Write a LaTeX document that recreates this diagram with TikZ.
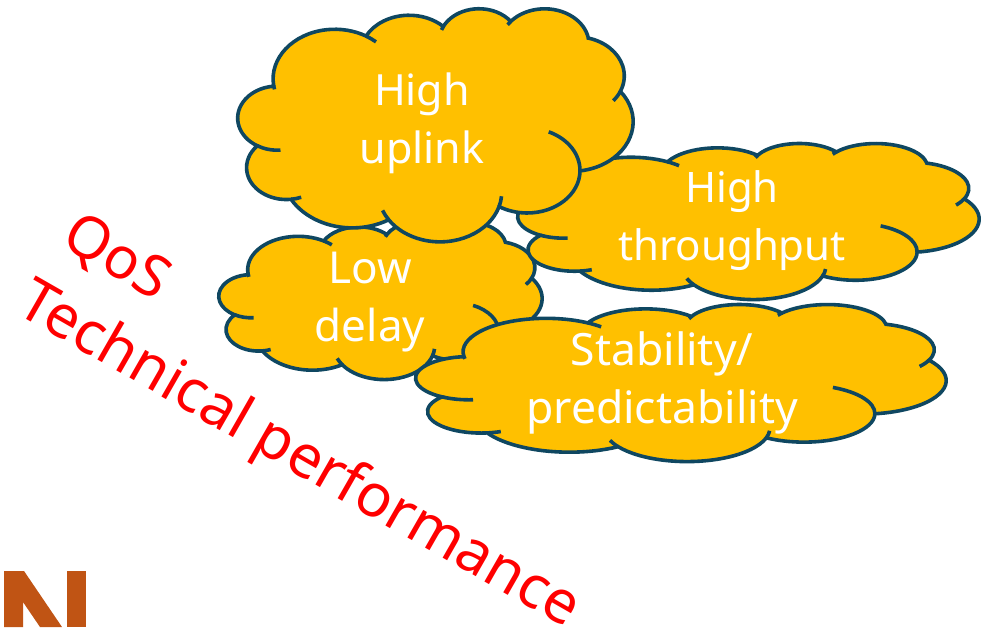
\documentclass[tikz,border=0pt]{standalone}
\usepackage{fontspec}
\setmainfont{Noto Sans}
\definecolor{cloudfill}{HTML}{FFC000}
\definecolor{cloudline}{HTML}{0F4761}
\definecolor{logoorange}{HTML}{C05414}
\newtoks\clhooktoks
\newcommand\clparang[4]{%
  \pgfmathsetmacro#1{atan2(#3*sin(#2),#4*cos(#2))}%
  \pgfmathsetmacro#1{#1+360*round((#2-#1)/360)}}
% wR hR stAng swAng backExt fwdExt
\newcommand\clseg[6]{%
  \pgfmathsetmacro\clra{#1*\clsx}\pgfmathsetmacro\clrb{#2*\clsy}%
  \pgfmathsetmacro\claend{#3+#4}%
  \clparang\cltone{#3}{#1}{#2}\clparang\clttwo{\claend}{#1}{#2}%
  \pgfmathsetmacro\clcx{\clcurx-\clra*cos(\cltone)}%
  \pgfmathsetmacro\clcy{\clcury+\clrb*sin(\cltone)}%
  \pgfmathsetmacro\clmone{0-\cltone}\pgfmathsetmacro\clmtwo{0-\clttwo}%
  \pgfpatharcaxes{\clmone}{\clmtwo}{\pgfpoint{\clra pt}{0pt}}{\pgfpoint{0pt}{\clrb pt}}%
  \pgfmathsetmacro\clcurx{\clcx+\clra*cos(\clttwo)}%
  \pgfmathsetmacro\clcury{\clcy-\clrb*sin(\clttwo)}%
  \ifdim #5pt>0pt
    \pgfmathsetmacro\claback{#3-#5}\clparang\cltb{\claback}{#1}{#2}%
    \pgfmathsetmacro\clhx{\clcx+\clra*cos(\cltb)}\pgfmathsetmacro\clhy{\clcy-\clrb*sin(\cltb)}%
    \pgfmathsetmacro\clmb{0-\cltb}%
    \edef\cltemp{\the\clhooktoks\noexpand\pgfpathmoveto{\noexpand\pgfpoint{\clhx pt}{\clhy pt}}\noexpand\pgfpatharcaxes{\clmb}{\clmone}{\noexpand\pgfpoint{\clra pt}{0pt}}{\noexpand\pgfpoint{0pt}{\clrb pt}}}%
    \global\clhooktoks\expandafter{\cltemp}%
  \fi
  \ifdim #6pt>0pt
    \pgfmathsetmacro\clafwd{\claend+#6}\clparang\cltf{\clafwd}{#1}{#2}%
    \pgfmathsetmacro\clmf{0-\cltf}%
    \edef\cltemp{\the\clhooktoks\noexpand\pgfpathmoveto{\noexpand\pgfpoint{\clcurx pt}{\clcury pt}}\noexpand\pgfpatharcaxes{\clmtwo}{\clmf}{\noexpand\pgfpoint{\clra pt}{0pt}}{\noexpand\pgfpoint{0pt}{\clrb pt}}}%
    \global\clhooktoks\expandafter{\cltemp}%
  \fi}
% X Y W H in px (y downwards)
\newcommand\cloudshape[4]{%
  \begin{pgfscope}%
  \pgfsetlinewidth{3.6pt}\pgfsetstrokecolor{cloudline}\pgfsetfillcolor{cloudfill}%
  \pgfmathsetmacro\clsx{#3/43.2}\pgfmathsetmacro\clsy{#4/43.2}%
  \pgfmathsetmacro\clcurx{#1+3.9*\clsx}\pgfmathsetmacro\clcury{0-(#2+14.37*\clsy)}%
  \global\clhooktoks{}%
  \pgfpathmoveto{\pgfpoint{\clcurx pt}{\clcury pt}}%
  \clseg{6.753}{9.190}{-190.4875}{123.7805}{6}{10}%
  \clseg{5.333}{7.267}{-144.1024}{89.9452}{0}{0}%
  \clseg{4.365}{5.945}{-145.8079}{99.7230}{8}{0}%
  \clseg{4.857}{6.595}{-130.9861}{117.2417}{7}{3}%
  \clseg{5.333}{7.273}{-78.7089}{109.0269}{0}{17.71}%
  \clseg{6.775}{9.220}{-46.2673}{130.2690}{0}{0}%
  \clseg{5.785}{7.867}{0.6250}{114.0333}{72.39}{0}%
  \clseg{6.752}{9.215}{22.4516}{115.1726}{16}{14.08}%
  \clseg{7.720}{10.543}{66.2426}{75.7110}{0}{0}%
  \clseg{4.360}{5.918}{85.0579}{146.7356}{11.45}{0}%
  \clseg{4.345}{5.945}{113.1715}{152.5189}{26.43}{0}%
  \pgfpathclose
  \pgfusepath{fill,stroke}%
  \the\clhooktoks
  \pgfusepath{stroke}%
  \end{pgfscope}}
\tikzset{
  cloudtext/.style={text=white,font=\fontsize{#1}{58}\selectfont,align=center,inner sep=0pt},
  qostext/.style={text=red,inner sep=0pt,font=\fontsize{#1}{70}\selectfont}
}
\begin{document}
\begin{tikzpicture}[x=1pt,y=1pt]
\useasboundingbox (0,0) rectangle (986,-627);
\fill[white] (0,0) rectangle (986,-627);
\fill[logoorange] (4,-571) -- (24,-571) -- (62,-627) -- (40,-627) -- (23,-602) -- (23,-627) -- (4,-627) -- cycle;
\fill[logoorange] (67,-571) rectangle (86,-627);
\cloudshape{219}{222}{323}{157}
\cloudshape{416}{304}{530}{157}
\cloudshape{518}{143}{461}{156}
\cloudshape{238}{8}{395}{233}
\node[cloudtext=43] (uplink) at (422,-123) {High\\uplink};
\node[cloudtext=42] (throughput) at (732,-221) {High\\throughput};
\node[cloudtext=44] (delay) at (370,-302) {Low\\delay};
\node[cloudtext=44.5] (stability) at (662,-383) {Stability/\\predictability};
\node[qostext=58,rotate=-30.4] (qos) at (116,-259) {QoS};
\node[qostext=59.5,rotate=-29.8] (tech) at (298,-457) {Technical performance};
\end{tikzpicture}
\end{document}
